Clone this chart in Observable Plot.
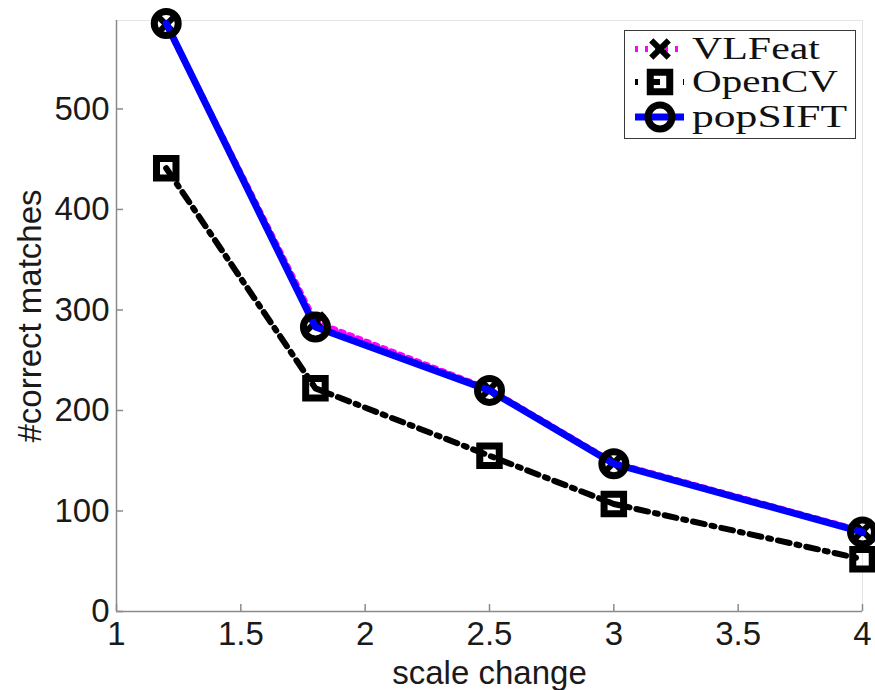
<!DOCTYPE html>
<html>
<head>
<meta charset="utf-8">
<script src="https://cdn.jsdelivr.net/npm/d3@7"></script>
<script src="https://cdn.jsdelivr.net/npm/@observablehq/plot@0.6"></script>
<style>
  html, body { margin: 0; padding: 0; background: #fff; }
  #wrap { position: relative; width: 875px; height: 690px; }
  #legend { position: absolute; left: 624px; top: 30px; width: 232px; height: 109px;
            box-sizing: border-box; border: 1.5px solid #3a3a3a; background: #fff; }
  #legend svg { display: block; }
</style>
</head>
<body>
<div id="wrap"><div id="legend"></div></div>
<script>
// ---- data ----
const scaleChange = [1.2, 1.8, 2.5, 3, 4];
const vlfeat  = [584, 288, 221, 148, 80];
const opencv  = [441, 222, 155, 107, 52];
const popsift = [585, 283, 220, 147, 79];
const seriesNames = ["VLFeat", "OpenCV", "popSIFT"];
const xTicks = [1, 1.5, 2, 2.5, 3, 3.5, 4];
const yTicks = [0, 100, 200, 300, 400, 500];
const xDomain = [1, 4];
const yDomain = [0, 588];

const rows = (vals) => scaleChange.map((x, i) => ({x, y: vals[i]}));
const dVL = rows(vlfeat), dCV = rows(opencv), dPS = rows(popsift);

const W = 875, H = 690;
const mL = 116, mR = 13, mT = 20, mB = 79;
const innerW = W - mL - mR, innerH = H - mT - mB;
const axisGray = "#8a8a8a";

const chart = Plot.plot({
  width: W, height: H,
  marginLeft: mL, marginRight: mR, marginTop: mT, marginBottom: mB,
  style: {fontFamily: "'Liberation Sans', Arial, sans-serif", fontSize: "32px", color: "#1a1a1a", background: "#fff", overflow: "visible"},
  x: {domain: xDomain},
  y: {domain: yDomain},
  marks: [
    Plot.frame({stroke: "#e4e4e4", strokeWidth: 1}),
    // inward ticks (Matlab style)
    Plot.ruleX(xTicks, {x: d => d, stroke: axisGray, strokeWidth: 1.5, insetTop: innerH - 7}),
    Plot.ruleY(yTicks, {y: d => d, stroke: axisGray, strokeWidth: 1.5, insetRight: innerW - 7}),
    // axis lines
    Plot.ruleY([yDomain[0]], {stroke: axisGray, strokeWidth: 1.5}),
    Plot.ruleX([xDomain[0]], {stroke: axisGray, strokeWidth: 1.5}),
    Plot.axisX({ticks: xTicks, tickSize: 0, tickPadding: 10, tickFormat: d => String(d), fontSize: 33,
                label: "scale change", labelAnchor: "center", labelOffset: 72, labelArrow: "none"}),
    Plot.axisY({ticks: yTicks, tickSize: 0, tickPadding: 7, tickFormat: d => String(d), fontSize: 33,
                label: "#correct matches", labelAnchor: "center", labelOffset: 99, labelArrow: "none"}),
    // VLFeat
    Plot.line(dVL, {x: "x", y: "y", stroke: "#ff00ff", strokeWidth: 6, strokeDasharray: "3,6"}),
    Plot.dot(dVL, {x: "x", y: "y", symbol: "times", r: 8, stroke: "#000", strokeWidth: 6, fill: "none"}),
    // OpenCV
    Plot.line(dCV, {x: "x", y: "y", stroke: "#000", strokeWidth: 6, strokeDasharray: "12,7,3,7"}),
    Plot.dot(dCV, {x: "x", y: "y", symbol: "square", r: 11, stroke: "#000", strokeWidth: 7, fill: "none"}),
    // popSIFT
    Plot.line(dPS, {x: "x", y: "y", stroke: "#0000ff", strokeWidth: 7}),
    Plot.dot(dPS, {x: "x", y: "y", symbol: "circle", r: 12, stroke: "#000", strokeWidth: 7, fill: "none"})
  ]
});

const wrap = document.getElementById("wrap");
wrap.insertBefore(chart, wrap.firstChild);

// ---- legend ----
const legendStyles = [
  {stroke: "#ff00ff", width: 6, dash: "3,7", marker: "times"},
  {stroke: "#000", width: 6, dash: "3,10,12,10", marker: "square"},
  {stroke: "#0000ff", width: 7, dash: null, marker: "circle"}
];
const legendTextLen = [128, 146, 155];
const lsvg = d3.create("svg").attr("width", 229).attr("height", 106);
const rowY = [18, 51, 86];
seriesNames.forEach((name, i) => {
  const s = legendStyles[i];
  const g = lsvg.append("g").attr("transform", `translate(0,${rowY[i]})`);
  g.append("line").attr("x1", 10).attr("x2", 59).attr("y1", 0).attr("y2", 0)
    .attr("stroke", s.stroke).attr("stroke-width", s.width)
    .attr("stroke-dasharray", s.dash);
  const sym = {times: d3.symbolTimes, square: d3.symbolSquare, circle: d3.symbolCircle}[s.marker];
  const r = s.marker === "times" ? 8 : s.marker === "square" ? 11 : 12;
  g.append("path").attr("transform", "translate(35,0)")
    .attr("d", d3.symbol(sym, Math.PI * r * r)())
    .attr("fill", "none").attr("stroke", "#000").attr("stroke-width", s.marker === "times" ? 6 : 7);
  g.append("text").attr("x", 67).attr("y", 10)
    .attr("font-family", "'Liberation Serif', 'DejaVu Serif', serif")
    .attr("font-size", 32).attr("fill", "#111")
    .attr("textLength", legendTextLen[i]).attr("lengthAdjust", "spacingAndGlyphs")
    .text(name);
});
document.getElementById("legend").appendChild(lsvg.node());
</script>
</body>
</html>
